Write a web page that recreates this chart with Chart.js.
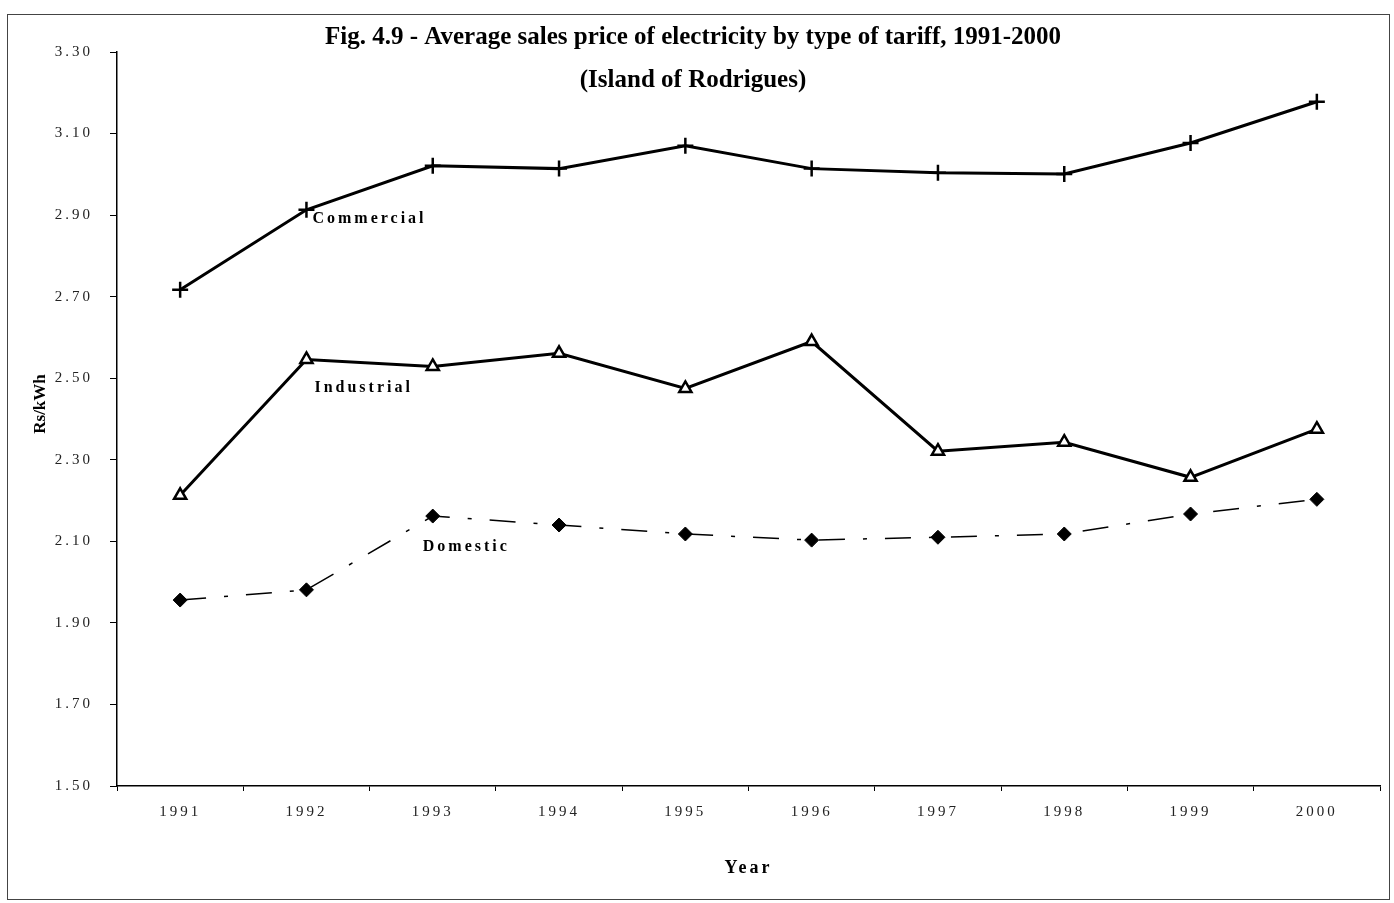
<!DOCTYPE html>
<html>
<head>
<meta charset="utf-8">
<script src="https://cdn.jsdelivr.net/npm/chart.js@4.4.0/dist/chart.umd.min.js"></script>
<style>
  html, body { margin: 0; padding: 0; background: #fff; }
  #wrap { width: 1394px; height: 903px; }
</style>
</head>
<body>
<div id="wrap"><canvas id="line-chart" width="1394" height="903"></canvas></div>
<script>
// values (Rs/kWh)
var years = ["1991", "1992", "1993", "1994", "1995", "1996", "1997", "1998", "1999", "2000"];
var commercial = [2.717, 2.913, 3.021, 3.014, 3.070, 3.014, 3.004, 3.001, 3.077, 3.178];
var industrial = [2.213, 2.546, 2.529, 2.561, 2.475, 2.590, 2.321, 2.343, 2.257, 2.375];
var domestic = [1.956, 1.981, 2.162, 2.140, 2.118, 2.103, 2.110, 2.118, 2.167, 2.203];
var yMin = 1.5, yMax = 3.3, yStep = 0.2;

var serif = "'Liberation Serif', 'Times New Roman', serif";

// the scan has wide letter spacing on all the small text
var spacing = {
  id: 'spacing',
  beforeLayout: function (chart) { chart.ctx.letterSpacing = '3px'; },
  beforeDraw: function (chart) { chart.ctx.letterSpacing = '3px'; }
};

// title, frame, y title and the series labels
var extras = {
  id: 'extras',
  afterDraw: function (chart) {
    var ctx = chart.ctx;
    var x = chart.scales.x, y = chart.scales.y;
    ctx.save();
    ctx.letterSpacing = '0px';
    // outer frame
    ctx.strokeStyle = '#444';
    ctx.lineWidth = 1;
    ctx.strokeRect(7.5, 14.5, 1382, 885);

    ctx.fillStyle = '#000';
    ctx.textAlign = 'center';
    ctx.textBaseline = 'alphabetic';
    ctx.font = 'bold 25px ' + serif;
    ctx.fillText('Fig. 4.9 - Average sales price of electricity by type of tariff, 1991-2000', 693, 44, 847);
    ctx.fillText('(Island of Rodrigues)', 693, 87, 256);

    // y axis title
    ctx.save();
    ctx.translate(41, 404);
    ctx.rotate(-Math.PI / 2);
    ctx.font = 'bold 17px ' + serif;
    ctx.textBaseline = 'middle';
    ctx.fillText('Rs/kWh', 0, 0);
    ctx.restore();

    // labels next to the lines
    ctx.letterSpacing = '3px';
    ctx.font = 'bold 16px ' + serif;
    ctx.textAlign = 'left';
    ctx.textBaseline = 'middle';
    ctx.fillText('Commercial', x.getPixelForValue(1) + 6, y.getPixelForValue(commercial[1]) + 9);
    ctx.fillText('Industrial', x.getPixelForValue(1) + 8, y.getPixelForValue(industrial[1]) + 28);
    ctx.fillText('Domestic', x.getPixelForValue(2) - 10, y.getPixelForValue(domestic[2]) + 31);
    ctx.restore();
  }
};

new Chart(document.getElementById("line-chart"), {
  type: 'line',
  data: {
    labels: years,
    datasets: [{
      label: "Commercial",
      data: commercial,
      borderColor: "#000",
      borderWidth: 3,
      pointStyle: 'cross',
      pointRadius: 8,
      pointBorderWidth: 2.5,
      pointBorderColor: "#000",
      fill: false,
      tension: 0
    }, {
      label: "Industrial",
      data: industrial,
      borderColor: "#000",
      borderWidth: 3,
      pointStyle: 'triangle',
      pointRadius: 7,
      pointBorderWidth: 2.5,
      pointBorderColor: "#000",
      pointBackgroundColor: "#fff",
      fill: false,
      tension: 0
    }, {
      label: "Domestic",
      data: domestic,
      borderColor: "#000",
      borderWidth: 1.5,
      borderDash: [26, 18, 4, 18],
      pointStyle: 'rectRot',
      pointRadius: 7,
      pointBorderWidth: 1,
      pointBorderColor: "#000",
      pointBackgroundColor: "#000",
      fill: false,
      tension: 0
    }]
  },
  options: {
    responsive: false,
    animation: false,
    layout: { padding: { left: 0, right: 14, top: 52, bottom: 0 } },
    plugins: {
      legend: { display: false },
      title: { display: false },
      tooltip: { enabled: false }
    },
    scales: {
      x: {
        offset: true,
        grid: { offset: true, drawOnChartArea: false, tickLength: 5, color: '#000' },
        border: { display: true, color: '#000', width: 1.5 },
        ticks: { color: '#222', font: { family: serif, size: 15 }, padding: 12, maxRotation: 0 },
        title: { display: true, text: 'Year', color: '#000', font: { family: serif, size: 18, weight: 'bold' }, padding: { top: 4, bottom: 24 } },
        afterFit: function (s) { s.height = 903 - 786; }
      },
      y: {
        min: yMin,
        max: yMax,
        grid: { drawOnChartArea: false, tickLength: 7, color: '#000' },
        border: { display: true, color: '#000', width: 1.5 },
        ticks: {
          stepSize: yStep,
          color: '#222',
          font: { family: serif, size: 15 },
          padding: 17,
          callback: function (v) { return v.toFixed(2); }
        },
        afterFit: function (s) { s.width = 117; }
      }
    }
  },
  plugins: [spacing, extras]
});
</script>
</body>
</html>
